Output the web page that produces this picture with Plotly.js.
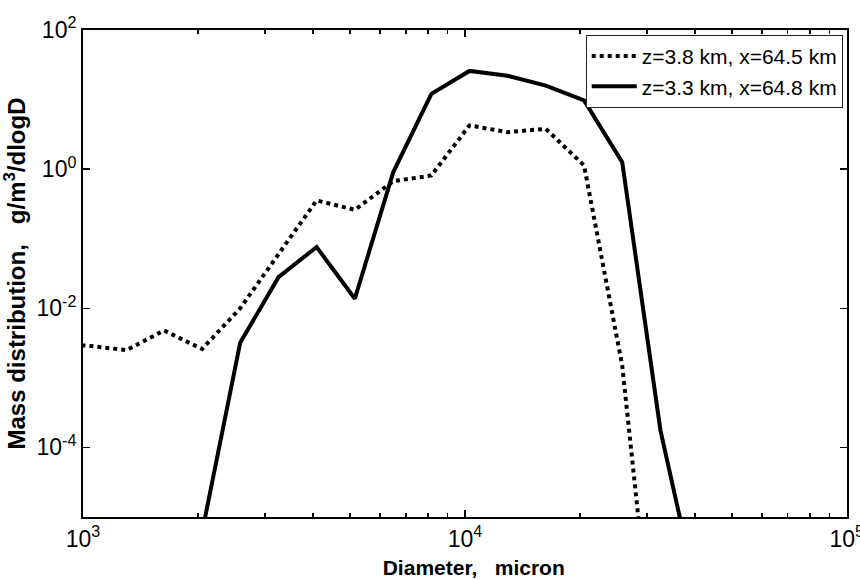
<!DOCTYPE html>
<html>
<head>
<meta charset="utf-8">
<script src="https://cdn.plot.ly/plotly-3.0.1.min.js"></script>
<style>html,body{margin:0;padding:0;background:#fff;overflow:hidden;}#chart{width:860px;height:580px;}</style>
</head>
<body>
<div id="chart"></div>
<script>
// Diameter (micron)
const diameter = [817, 1030, 1300, 1630, 2050, 2580, 3250, 4090, 5150, 6490, 8170, 10280, 12940, 16290, 20510, 25820, 32510, 40930];
// Mass distribution g/m^3/dlogD
const massZ38 = [0.0031, 0.0029, 0.0025, 0.0048, 0.0026, 0.010, 0.060, 0.355, 0.26, 0.67, 0.81, 4.25, 3.4, 3.8, 1.13, 0.0015, 1e-8, null];
const massZ33 = [null, null, null, null, 6e-6, 0.0032, 0.028, 0.076, 0.0137, 0.9, 12.1, 25.8, 22, 15.9, 9.7, 1.26, 1.76e-4, 6e-7];
const seriesNames = ['z=3.8 km, x=64.5 km', 'z=3.3 km, x=64.8 km'];
// Tick labels
const xTickVals = [1e3, 1e4, 1e5];
const xTickText = ['10<sup>3</sup>', '10<sup>4</sup>', '10<sup>5</sup>'];
const yTickVals = [1e-4, 1e-2, 1e0, 1e2];
const yTickText = ['10<sup>-4</sup>', '10<sup>-2</sup>', '10<sup>0</sup>', '10<sup>2</sup>'];

const FONT = 'Liberation Sans, Arial, sans-serif';

const traces = [
  {x: diameter, y: massZ38, name: seriesNames[0], type: 'scatter', mode: 'lines',
   line: {color: '#000', width: 4, dash: '4px,4px'}},
  {x: diameter, y: massZ33, name: seriesNames[1], type: 'scatter', mode: 'lines',
   line: {color: '#000', width: 4}}
];

const layout = {
  width: 860, height: 580,
  margin: {l: 83, r: 13, t: 30, b: 63},
  paper_bgcolor: '#fff', plot_bgcolor: '#fff',
  font: {family: FONT, color: '#000', size: 20},
  showlegend: true,
  legend: {x: 0.658, y: 0.99, xanchor: 'left', yanchor: 'top',
           bgcolor: '#fff', bordercolor: '#222', borderwidth: 1, itemwidth: 45,
           font: {family: FONT, size: 21, color: '#000'}, tracegroupgap: 0},
  xaxis: {
    type: 'log', range: [3, 5.0005], tickmode: 'array', tickvals: xTickVals, ticktext: xTickText,
    automargin: false, ticklabeloverflow: 'allow',
    showgrid: false, zeroline: false, showline: true, linecolor: '#000', linewidth: 2,
    mirror: 'allticks', ticks: 'inside', ticklen: 7, tickwidth: 1.5, tickcolor: '#000',
    minor: {dtick: 'D1', ticks: 'inside', ticklen: 4, tickwidth: 1.5, tickcolor: '#000', showgrid: false},
    tickfont: {family: FONT, size: 23},
    title: {text: '<b>\u00a0\u00a0\u00a0Diameter,\u00a0\u00a0 micron</b>', font: {family: FONT, size: 21}, standoff: 10}
  },
  yaxis: {
    type: 'log', range: [-5, 2], tickmode: 'array', tickvals: yTickVals, ticktext: yTickText,
    automargin: false, ticklabeloverflow: 'allow',
    showgrid: false, zeroline: false, showline: true, linecolor: '#000', linewidth: 2,
    mirror: 'allticks', ticks: 'inside', ticklen: 7, tickwidth: 1.5, tickcolor: '#000',
    tickfont: {family: FONT, size: 23},
    title: {text: '<b>Mass distribution,\u00a0\u00a0 g/m<sup>3</sup>/dlogD</b>', font: {family: FONT, size: 24}, standoff: 4}
  }
};

Plotly.newPlot('chart', traces, layout, {displayModeBar: false, staticPlot: true});
</script>
</body>
</html>
